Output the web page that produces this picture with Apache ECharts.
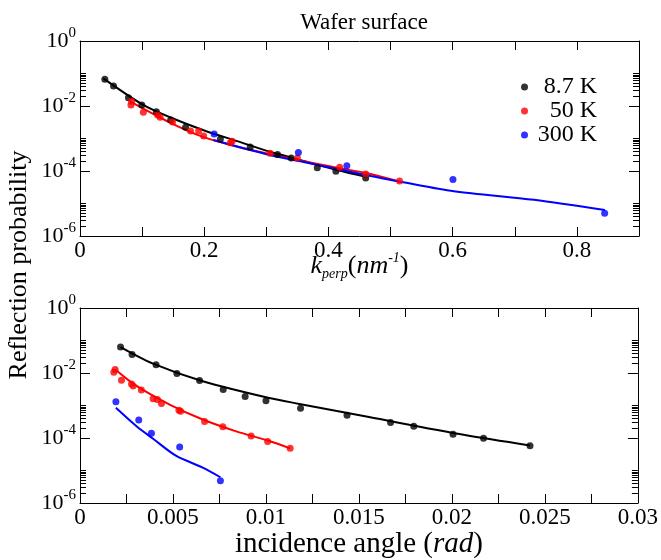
<!DOCTYPE html>
<html>
<head>
<meta charset="utf-8">
<script src="https://cdn.jsdelivr.net/npm/echarts@6/dist/echarts.min.js"></script>
<style>
html, body { margin: 0; padding: 0; background: #fff; }
#chart { width: 661px; height: 560px; }
</style>
</head>
<body>
<div id="chart"></div>
<script>
// series names (legend)
var names = ["8.7 K", "50 K", "300 K"];
var colors = ["#000000", "#ff0000", "#0000ff"];

// top panel: reflection probability vs k_perp (nm^-1)
var topBlackPts = [[0.040, 0.066], [0.054, 0.041], [0.078, 0.018], [0.0995, 0.0107], [0.123, 0.0067], [0.146, 0.0037], [0.170, 0.0022], [0.226, 9.6e-4], [0.274, 5.5e-4], [0.318, 3.2e-4], [0.340, 2.5e-4], [0.382, 1.26e-4], [0.412, 9.8e-5], [0.460, 6.1e-5]];
var topRedPts = [[0.082, 0.0107], [0.083, 0.014], [0.102, 0.0064], [0.125, 0.0053], [0.129, 0.0045], [0.149, 0.0032], [0.178, 0.0017], [0.191, 0.0017], [0.199, 0.0012], [0.242, 7.4e-4], [0.245, 8.2e-4], [0.306, 3.5e-4], [0.350, 2.5e-4], [0.418, 1.3e-4], [0.460, 8.1e-5], [0.5145, 4.9e-5]];
var topBluePts = [[0.216, 1.38e-3], [0.3516, 3.7e-4], [0.4296, 1.45e-4], [0.6005, 5.5e-5], [0.8447, 5.0e-6]];
var topBlackFit = [[0.0376, 0.071], [0.0995, 0.0115], [0.145, 0.0045], [0.199, 0.0018], [0.253, 8.3e-4], [0.306, 3.9e-4], [0.360, 2.04e-4], [0.414, 1.07e-4], [0.462, 6.5e-5]];
var topRedFit = [[0.0806, 0.014], [0.145, 0.0031], [0.199, 1.1e-3], [0.253, 5.6e-4], [0.306, 3.3e-4], [0.360, 2.0e-4], [0.414, 1.26e-4], [0.468, 8.1e-5], [0.5145, 4.7e-5]];
var topBlueFit = [[0.215, 9e-4], [0.306, 3.1e-4], [0.360, 1.9e-4], [0.468, 7e-5], [0.516, 4.7e-5], [0.602, 2.4e-5], [0.731, 1.3e-5], [0.845, 6.3e-6]];

// bottom panel: reflection probability vs incidence angle (rad)
var botBlackPts = [[0.00218, 0.063], [0.0028, 0.037], [0.00409, 0.0178], [0.00521, 0.0096], [0.00643, 0.0059], [0.0077, 0.0031], [0.00888, 0.0019], [0.0100, 0.0014], [0.01186, 8.3e-4], [0.01436, 5.0e-4], [0.0167, 3.0e-4], [0.01795, 2.3e-4], [0.02006, 1.3e-4], [0.0217, 9.8e-5], [0.0242, 5.8e-5]];
var botRedPts = [[0.00182, 0.0106], [0.00189, 0.0128], [0.00223, 0.006], [0.00277, 0.0046], [0.00286, 0.0040], [0.0033, 0.0030], [0.00393, 0.0016], [0.00416, 0.00154], [0.00438, 0.00116], [0.00532, 7.2e-4], [0.00541, 6.6e-4], [0.0067, 3.2e-4], [0.00768, 2.2e-4], [0.0092, 1.16e-4], [0.01009, 7.8e-5], [0.0113, 4.8e-5]];
var botBluePts = [[0.00193, 1.3e-3], [0.00316, 3.6e-4], [0.00384, 1.4e-4], [0.00536, 5.3e-5], [0.00755, 4.8e-6]];
var botBlackFit = [[0.00218, 0.063], [0.00393, 0.0195], [0.0066, 0.0056], [0.01018, 0.0017], [0.0118, 0.00112], [0.01554, 4.4e-4], [0.0207, 1.23e-4], [0.0242, 5.9e-5]];
var botRedFit = [[0.0019, 0.0129], [0.00304, 0.0040], [0.00482, 0.00107], [0.0066, 3.7e-4], [0.0084, 1.6e-4], [0.01018, 8.1e-5], [0.0113, 4.8e-5]];
var botBlueFit = [[0.00193, 8.5e-4], [0.00304, 2.3e-4], [0.00393, 9.5e-5], [0.00518, 2.8e-5], [0.0066, 1.23e-5], [0.00755, 6.2e-6]];

// tick labels
var topXLabels = [0, 0.2, 0.4, 0.6, 0.8];
var botXLabels = [0, 0.005, 0.01, 0.015, 0.02, 0.025, 0.03];
var yMajor = [1, 1e-2, 1e-4, 1e-6];
var yMinor = [];
[-2, -4, -6].forEach(function (n) {
  for (var k = 2; k <= 10; k++) yMinor.push(k * Math.pow(10, n));
});

var FONT = "Liberation Serif";
var black = { color: "#000", width: 1 };

function xAxes(gi, max, interval, labels, name, nameGap, rich) {
  var base = {
    gridIndex: gi,
    type: "value",
    min: 0,
    max: max,
    interval: interval,
    splitLine: { show: false },
    axisLine: { show: true, onZero: false, lineStyle: black },
    axisTick: { show: true, inside: true, length: 9, lineStyle: black },
  };
  var bottom = Object.assign({}, base, {
    position: "bottom",
    axisLabel: {
      customValues: labels,
      margin: 3,
      color: "#000",
      fontFamily: FONT,
      fontSize: 23,
      formatter: function (v) {
        return v === 0 ? "0" : String(+v.toFixed(4));
      },
    },
    name: name,
    nameLocation: "middle",
    nameGap: nameGap,
    nameMoveOverlap: false,
    nameTextStyle: { color: "#000", fontFamily: FONT, fontSize: 27, lineHeight: 30, rich: rich },
  });
  var top = Object.assign({}, base, {
    position: "top",
    axisLabel: { show: false },
  });
  return [bottom, top];
}

function yAxes(gi) {
  var base = {
    gridIndex: gi,
    type: "log",
    logBase: 10,
    min: 1e-6,
    max: 1,
    splitLine: { show: false },
    axisLabel: { show: false },
  };
  var leftMajor = Object.assign({}, base, {
    position: "left",
    axisLine: { show: true, onZero: false, lineStyle: black },
    axisTick: { show: true, inside: true, length: 10, customValues: yMajor, lineStyle: black },
    axisLabel: {
      show: true,
      customValues: yMajor,
      margin: 4,
      formatter: function (v) {
        var e = Math.round(Math.log(v) / Math.LN10);
        return "{b|10}{s|" + e + "}";
      },
      rich: {
        b: { fontFamily: FONT, fontSize: 22, color: "#000", lineHeight: 30 },
        s: { fontFamily: FONT, fontSize: 15, color: "#000", verticalAlign: "top" },
      },
    },
  });
  // minor ticks only, drawn on the same edges
  var leftMinor = Object.assign({}, base, {
    position: "left",
    axisLine: { show: false, onZero: false },
    axisTick: { show: true, inside: true, length: 6, customValues: yMinor, lineStyle: black },
  });
  var rightMajor = Object.assign({}, base, {
    position: "right",
    axisLine: { show: true, onZero: false, lineStyle: black },
    axisTick: { show: true, inside: true, length: 10, customValues: yMajor, lineStyle: black },
  });
  var rightMinor = Object.assign({}, base, {
    position: "right",
    axisLine: { show: false, onZero: false },
    axisTick: { show: true, inside: true, length: 6, customValues: yMinor, lineStyle: black },
  });
  return [leftMajor, leftMinor, rightMajor, rightMinor];
}

function dots(i, data, xi, yi) {
  return {
    name: names[i],
    type: "scatter",
    xAxisIndex: xi,
    yAxisIndex: yi,
    symbol: "circle",
    symbolSize: 7,
    itemStyle: { color: colors[i] },
    data: data,
    z: 3,
  };
}

function fit(i, data, xi, yi) {
  return {
    name: names[i] + " fit",
    type: "line",
    xAxisIndex: xi,
    yAxisIndex: yi,
    showSymbol: false,
    smooth: 0.3,
    lineStyle: { color: colors[i], width: 2 },
    data: data,
    z: 2,
  };
}

var topNameRich = {
  k: { fontFamily: FONT, fontSize: 26, fontStyle: "italic", color: "#000", lineHeight: 30 },
  sub: { fontFamily: FONT, fontSize: 14, fontStyle: "italic", color: "#000", verticalAlign: "bottom" },
  n: { fontFamily: FONT, fontSize: 26, color: "#000", lineHeight: 30 },
  i: { fontFamily: FONT, fontSize: 26, fontStyle: "italic", color: "#000", lineHeight: 30 },
  sup: { fontFamily: FONT, fontSize: 14, fontStyle: "italic", color: "#000", verticalAlign: "top" },
};
var botNameRich = {
  n: { fontFamily: FONT, fontSize: 29, color: "#000", lineHeight: 30 },
  i: { fontFamily: FONT, fontSize: 29, fontStyle: "italic", color: "#000", lineHeight: 30 },
};

var chart = echarts.init(document.getElementById("chart"));

var option = {
  animation: false,
  backgroundColor: "#fff",
  title: {
    text: "Wafer surface",
    left: 359,
    top: 6,
    textAlign: "center",
    textStyle: { fontFamily: FONT, fontSize: 23, fontWeight: "normal", color: "#000" },
  },
  legend: {
    data: names,
    orient: "vertical",
    left: 516,
    top: 70,
    icon: "circle",
    itemWidth: 7,
    itemHeight: 7,
    itemGap: 0,
    formatter: function (n) {
      return "{r|" + n + "}";
    },
    textStyle: {
      fontFamily: FONT,
      fontSize: 24,
      color: "#000",
      rich: { r: { fontFamily: FONT, fontSize: 24, color: "#000", width: 64, align: "right", lineHeight: 23 } },
    },
  },
  graphic: [
    {
      type: "text",
      x: 19,
      y: 265,
      rotation: Math.PI / 2,
      style: {
        text: "Reflection probability",
        font: '26px "Liberation Serif"',
        fill: "#000",
        align: "center",
        verticalAlign: "middle",
      },
    },
  ],
  grid: [
    { left: 80, right: 22, top: 41, height: 195 },
    { left: 80, right: 22, top: 308, height: 196 },
  ],
  xAxis: []
    .concat(xAxes(0, 0.9, 0.1, topXLabels, "{k|k}{sub|perp}{n|(}{i|nm}{sup|-1}{n|)}", 15, topNameRich))
    .concat(xAxes(1, 0.03, 0.0025, botXLabels, "{n|incidence angle (}{i|rad}{n|)}", 26, botNameRich)),
  yAxis: [].concat(yAxes(0)).concat(yAxes(1)),
  series: [
    fit(0, topBlackFit, 0, 0),
    fit(1, topRedFit, 0, 0),
    fit(2, topBlueFit, 0, 0),
    dots(0, topBlackPts, 0, 0),
    dots(1, topRedPts, 0, 0),
    dots(2, topBluePts, 0, 0),
    fit(0, botBlackFit, 2, 4),
    fit(1, botRedFit, 2, 4),
    fit(2, botBlueFit, 2, 4),
    dots(0, botBlackPts, 2, 4),
    dots(1, botRedPts, 2, 4),
    dots(2, botBluePts, 2, 4),
  ],
};

chart.setOption(option);
</script>
</body>
</html>
